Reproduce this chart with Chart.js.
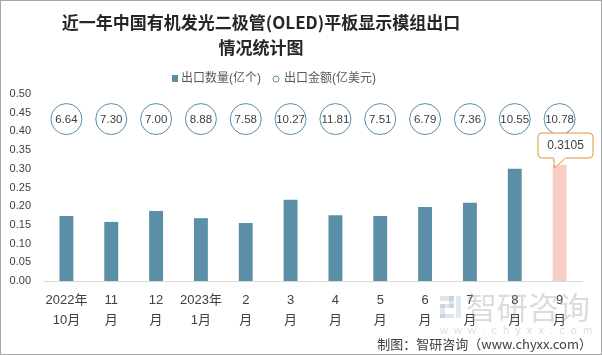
<!DOCTYPE html>
<html><head><meta charset="utf-8">
<script src="https://cdn.jsdelivr.net/npm/chart.js@4/dist/chart.umd.min.js"></script>
<style>html,body{margin:0;padding:0;background:#fff}#wrap{position:relative;width:602px;height:355px}</style>
</head><body><div id="wrap"><canvas id="c" width="602" height="355"></canvas></div>
<script>
const titleLines = ["近一年中国有机发光二极管(OLED)平板显示模组出口", "情况统计图"];
const categories = [["2022年","10月"],["11","月"],["12","月"],["2023年","1月"],["2","月"],["3","月"],["4","月"],["5","月"],["6","月"],["7","月"],["8","月"],["9","月"]];
const quantity = [0.174, 0.158, 0.187, 0.168, 0.155, 0.217, 0.176, 0.174, 0.198, 0.209, 0.300, 0.3105];
const amount = [6.64, 7.30, 7.00, 8.88, 7.58, 10.27, 11.81, 7.51, 6.79, 7.36, 10.55, 10.78];
const seriesNames = ["出口数量(亿个)", "出口金额(亿美元)"];
const yTicks = [0, 0.05, 0.10, 0.15, 0.20, 0.25, 0.30, 0.35, 0.40, 0.45, 0.50];
const footer = "制图：智研咨询（www.chyxx.com）";

const BAR = '#5b8ea7', HIGHLIGHT = '#f8cfc5', CIRCLE = '#5b8ea7';
const FONT = '"Liberation Sans", "Noto Sans CJK SC", sans-serif';

const deco = {
  id: 'deco',
  afterDraw(chart) {
    const ctx = chart.ctx, x = chart.scales.x, y = chart.scales.y;
    ctx.save();
    // title
    ctx.fillStyle = '#262626';
    ctx.font = 'bold 17px "Noto Sans CJK SC", sans-serif';
    ctx.textAlign = 'center'; ctx.textBaseline = 'middle';
    ctx.fillText(titleLines[0], 261, 23);
    ctx.fillText(titleLines[1], 261, 48);
    // legend
    ctx.font = '12px ' + FONT;
    ctx.textAlign = 'left';
    ctx.fillStyle = BAR;
    ctx.fillRect(172, 75, 6, 7);
    ctx.fillStyle = '#595959';
    ctx.fillText(seriesNames[0], 181, 79);
    ctx.beginPath(); ctx.arc(276, 79, 3, 0, Math.PI*2);
    ctx.strokeStyle = CIRCLE; ctx.lineWidth = 1; ctx.stroke();
    ctx.fillText(seriesNames[1], 284, 79);
    // amount circles
    const rowY = y.getPixelForValue(0.433);
    ctx.textAlign = 'center';
    amount.forEach((v, i) => {
      const cx = x.getPixelForValue(i);
      ctx.beginPath(); ctx.arc(cx, rowY, 15.5, 0, Math.PI*2);
      ctx.fillStyle = '#fff'; ctx.fill();
      ctx.strokeStyle = CIRCLE; ctx.lineWidth = 1; ctx.stroke();
      ctx.fillStyle = '#404040';
      ctx.font = '11.5px ' + FONT;
      ctx.fillText(v.toFixed(2), cx, rowY + 0.5);
    });
    // callout for last bar
    const li = quantity.length - 1;
    const bx = x.getPixelForValue(li), by = y.getPixelForValue(quantity[li]);
    const L = 538, R = 593, T = 133, B = 158, r = 4;
    ctx.beginPath();
    ctx.moveTo(L + r, T); ctx.lineTo(R - r, T); ctx.quadraticCurveTo(R, T, R, T + r);
    ctx.lineTo(R, B - r); ctx.quadraticCurveTo(R, B, R - r, B);
    ctx.lineTo(bx + 6, B); ctx.lineTo(bx - 5, by + 3); ctx.lineTo(bx - 6, B);
    ctx.lineTo(L + r, B); ctx.quadraticCurveTo(L, B, L, B - r);
    ctx.lineTo(L, T + r); ctx.quadraticCurveTo(L, T, L + r, T);
    ctx.closePath();
    ctx.fillStyle = '#fff'; ctx.fill();
    ctx.strokeStyle = '#e8923a'; ctx.lineWidth = 1; ctx.stroke();
    ctx.fillStyle = '#404040'; ctx.font = '12px ' + FONT;
    ctx.fillText(String(quantity[li]), (L + R) / 2, (T + B) / 2 + 0.5);
    // watermark
    ctx.globalAlpha = 0.3;
    ctx.fillStyle = '#9aa9c4';
    ctx.fillRect(440, 296, 14, 5); ctx.fillRect(449, 296, 5, 12); ctx.fillRect(440, 304, 14, 4); ctx.fillRect(440, 304, 5, 14); ctx.fillRect(440, 314, 14, 4);
    ctx.fillStyle = '#8ab9dd'; ctx.fillRect(456, 296, 5, 22);
    ctx.fillStyle = '#8c8c8c';
    ctx.font = '31px "Noto Sans CJK SC", sans-serif';
    ctx.textAlign = 'left';
    ctx.fillText('智研咨询', 466, 307);
    ctx.font = '11px ' + FONT;
    ctx.fillText('w  w  w  .  c  h  y  x  x  .  c  o  m', 440, 331);
    ctx.globalAlpha = 1;
    // footer
    ctx.fillStyle = '#404040';
    ctx.font = '13px "Noto Sans CJK SC", sans-serif';
    ctx.textAlign = 'right';
    ctx.fillText(footer, 592, 344);
    // border
    ctx.strokeStyle = '#a6a6a6'; ctx.lineWidth = 1;
    ctx.strokeRect(0.5, 0.5, 601, 354);
    ctx.restore();
  }
};

new Chart(document.getElementById('c'), {
  type: 'bar',
  data: {
    labels: categories,
    datasets: [{
      label: seriesNames[0],
      data: quantity,
      backgroundColor: quantity.map((v, i) => i === quantity.length - 1 ? HIGHLIGHT : BAR),
      categoryPercentage: 1,
      barPercentage: 0.31
    }]
  },
  options: {
    responsive: false, animation: false,
    devicePixelRatio: 1,
    layout: { padding: { top: 94, left: 10, right: 20, bottom: 0 } },
    plugins: { legend: { display: false }, title: { display: false }, tooltip: { enabled: false } },
    scales: {
      x: {
        grid: { display: false, drawTicks: false },
        border: { display: true, color: '#d9d9d9', width: 1 },
        ticks: { color: '#404040', font: { size: 13, family: FONT, lineHeight: 1.55 }, padding: 9, maxRotation: 0, autoSkip: false },
        afterFit(s) { s.height = 74; }
      },
      y: {
        min: 0, max: 0.5,
        afterBuildTicks(s) { s.ticks = yTicks.map(v => ({ value: v })); },
        grid: { display: false, drawTicks: false },
        border: { display: false },
        ticks: { color: '#404040', font: { size: 11, family: FONT }, padding: 13, callback: v => v.toFixed(2) },
        afterFit(s) { s.width = 34; }
      }
    }
  },
  plugins: [deco]
});
</script></body></html>
